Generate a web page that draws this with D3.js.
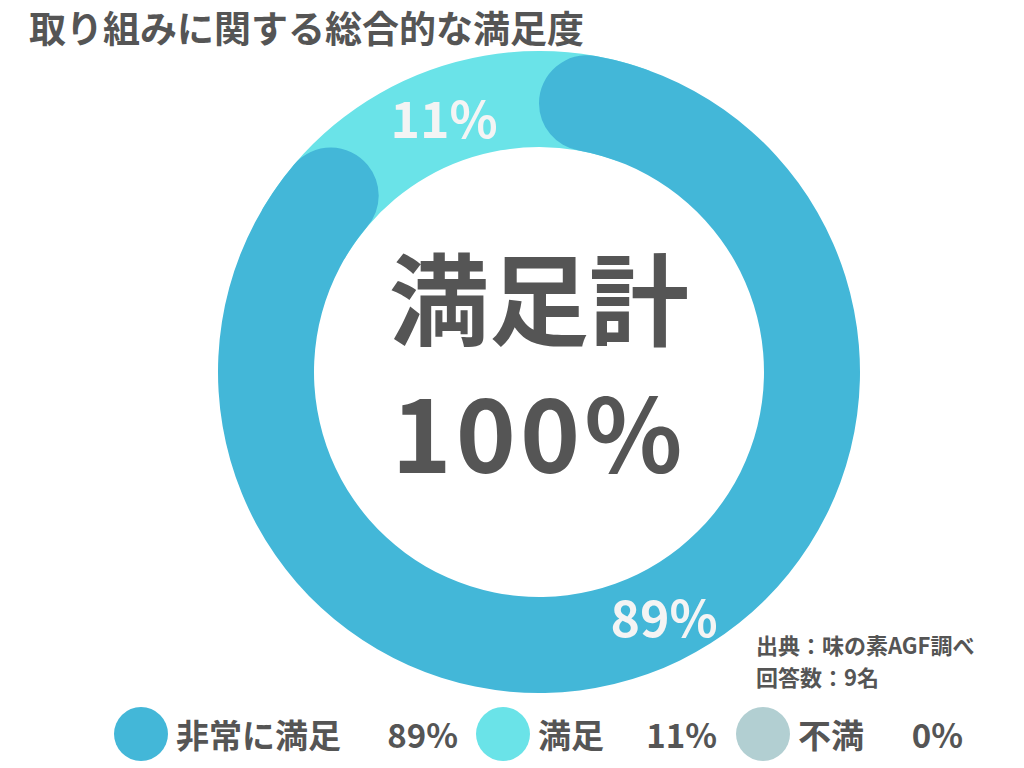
<!DOCTYPE html>
<html>
<head>
<meta charset="utf-8">
<script src="https://cdn.jsdelivr.net/npm/d3@7"></script>
<style>
  body { margin: 0; background: #fff; }
  svg { display: block; }
  text { font-family: "Noto Sans CJK JP", "Noto Sans", sans-serif; font-weight: 700; }
</style>
</head>
<body>
<svg width="1024" height="768"></svg>
<script>
// data
var categories = ["非常に満足", "満足", "不満"],
    values = [89, 11, 0],
    colors = ["#43b7d8", "#6ae3e8", "#b2cfd2"],
    title = "取り組みに関する総合的な満足度",
    centerLabel = "満足計",
    centerValue = "100%",
    sourceLines = ["出典：味の素AGF調べ", "回答数：9名"];

var svg = d3.select("svg"),
    cx = 539, cy = 372,
    rOuter = 321, rInner = 225,
    rMid = (rOuter + rInner) / 2,
    capAng = ((rOuter - rInner) / 2) / rMid,
    textColor = "#555";

svg.append("text")
    .attr("x", 29).attr("y", 27)
    .attr("dominant-baseline", "central")
    .attr("font-size", 37)
    .attr("fill", textColor)
    .text(title);

var pie = d3.pie().sort(null).value(function(d) { return d; });
var slices = pie(values);

var g = svg.append("g").attr("transform", "translate(" + cx + "," + cy + ")");

// smaller slices sit underneath and reach in under the rounded ends
var under = d3.arc().innerRadius(rInner).outerRadius(rOuter);
var rounded = d3.arc().innerRadius(rInner).outerRadius(rOuter).cornerRadius((rOuter - rInner) / 2);

g.selectAll("path.under")
    .data(slices.filter(function(d, i) { return i > 0 && d.value > 0; }))
  .enter().append("path")
    .attr("class", "under")
    .attr("fill", function(d) { return colors[d.index]; })
    .attr("d", function(d) {
      return under({ startAngle: d.startAngle - 2 * capAng, endAngle: d.endAngle + 2 * capAng });
    });

g.append("path")
    .attr("fill", colors[0])
    .attr("d", rounded(slices[0]));

// slice labels
var labelNudge = [-0.13, -0.01, 0];
g.selectAll("text.pct")
    .data(slices.filter(function(d) { return d.value > 0; }))
  .enter().append("text")
    .attr("class", "pct")
    .attr("x", function(d) { return rMid * Math.sin((d.startAngle + d.endAngle) / 2 + labelNudge[d.index]); })
    .attr("y", function(d) { return -rMid * Math.cos((d.startAngle + d.endAngle) / 2 + labelNudge[d.index]); })
    .attr("text-anchor", "middle")
    .attr("dominant-baseline", "central")
    .attr("font-size", 50)
    .attr("fill", "#f4f4f4")
    .text(function(d) { return d.value + "%"; });

// centre text
g.append("text")
    .attr("x", 0).attr("y", -78)
    .attr("text-anchor", "middle")
    .attr("dominant-baseline", "central")
    .attr("font-size", 100)
    .attr("fill", textColor)
    .text(centerLabel);

g.append("text")
    .attr("x", 0).attr("y", 101)
    .attr("text-anchor", "middle")
    .attr("font-size", 102)
    .attr("letter-spacing", 4)
    .attr("fill", textColor)
    .text(centerValue);

// source
svg.selectAll("text.src")
    .data(sourceLines)
  .enter().append("text")
    .attr("class", "src")
    .attr("x", 756)
    .attr("y", function(d, i) { return 644 + i * 32; })
    .attr("dominant-baseline", "central")
    .attr("font-size", 22)
    .attr("fill", textColor)
    .text(function(d) { return d; });

// legend
var legendX = [141, 503, 763],
    legendY = 734;
var item = svg.selectAll("g.leg")
    .data(categories)
  .enter().append("g")
    .attr("class", "leg")
    .attr("transform", function(d, i) { return "translate(" + legendX[i] + "," + legendY + ")"; });

item.append("circle")
    .attr("r", 27)
    .attr("fill", function(d, i) { return colors[i]; });

item.append("text")
    .attr("x", 35)
    .attr("dominant-baseline", "central")
    .attr("font-size", 33)
    .attr("fill", textColor)
    .text(function(d) { return d; });

item.append("text")
    .attr("x", function(d, i) { return [317, 214, 200][i]; })
    .attr("dominant-baseline", "central")
    .attr("text-anchor", "end")
    .attr("font-size", 33)
    .attr("fill", textColor)
    .text(function(d, i) { return values[i] + "%"; });
</script>
</body>
</html>
